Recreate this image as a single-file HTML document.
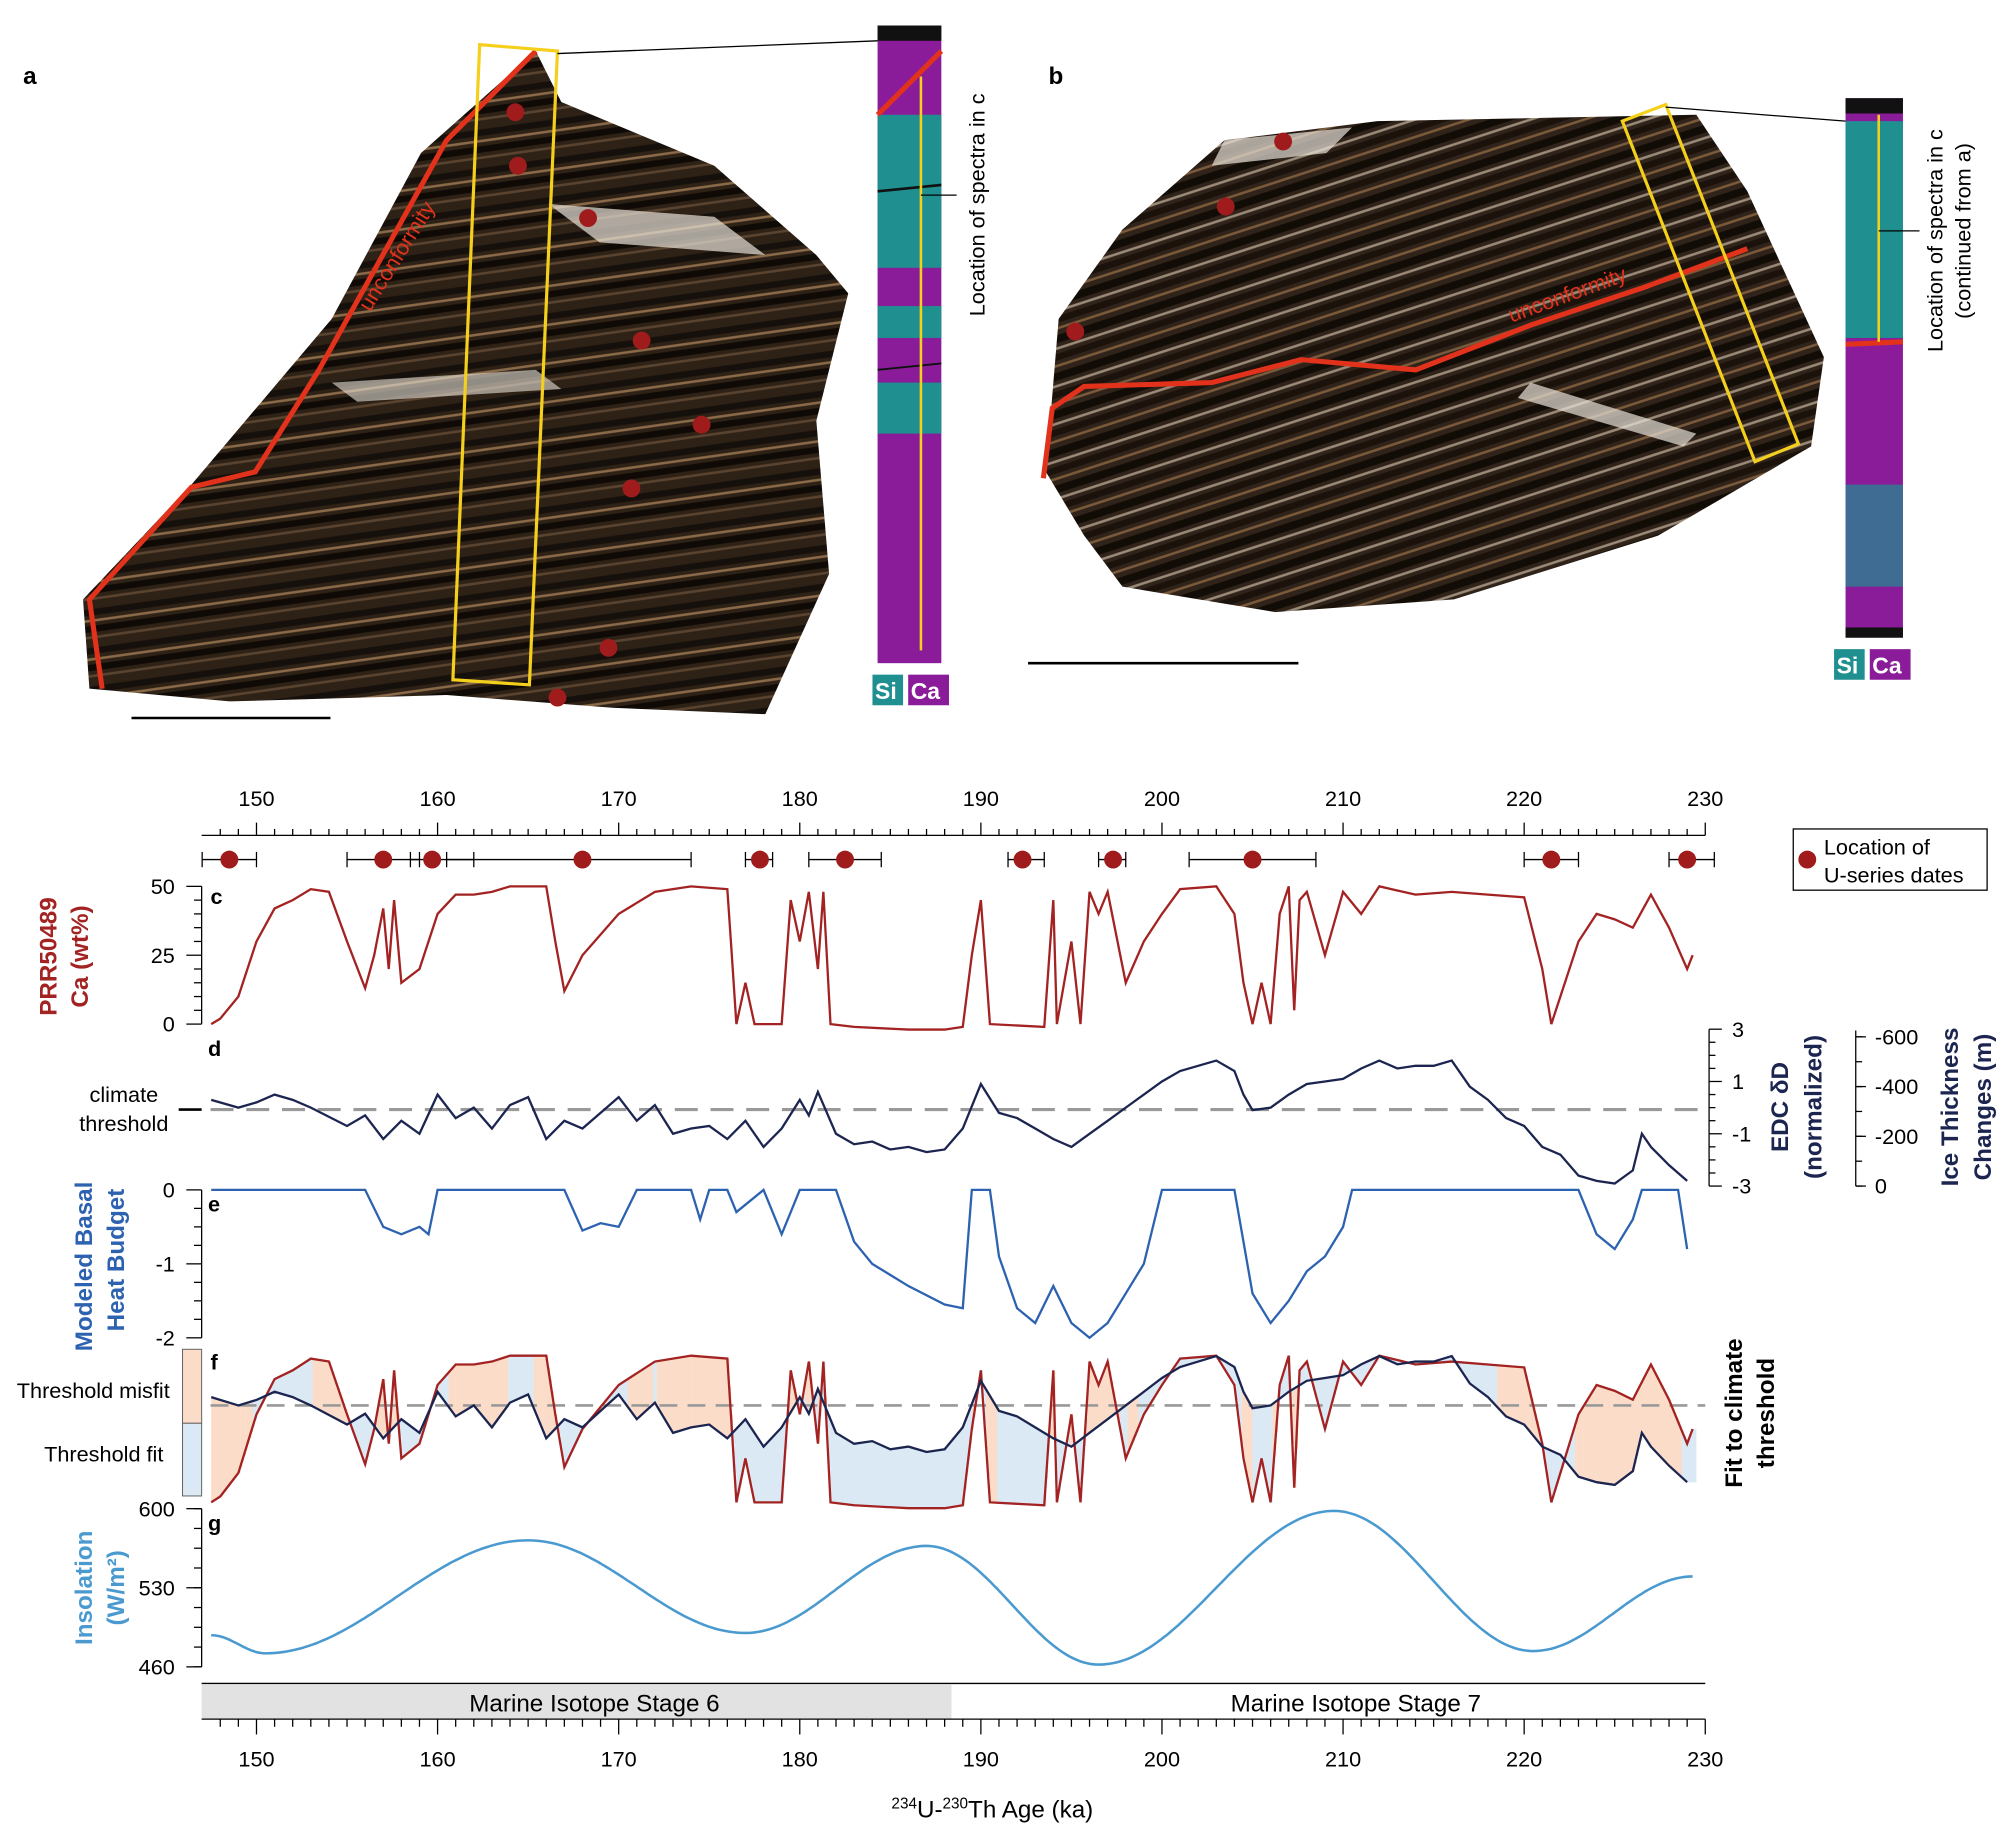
<!DOCTYPE html>
<html><head><meta charset="utf-8"><style>
html,body{margin:0;padding:0;background:#fff}
svg{display:block}
text{font-family:"Liberation Sans",Arial,sans-serif}
</style></head><body>
<svg id="s" width="2000" height="1825" viewBox="0 0 1568 1431" xmlns="http://www.w3.org/2000/svg">
<defs>
<pattern id="rockA" patternUnits="userSpaceOnUse" width="60" height="30" patternTransform="rotate(-8)">
<rect width="60" height="30" fill="#2e2116"/>
<rect y="3" width="60" height="5" fill="#15100b"/>
<rect y="11" width="60" height="2" fill="#8a6a48"/>
<rect y="16" width="60" height="5" fill="#0f0a06"/>
<rect y="24" width="60" height="2" fill="#5a4430"/>
</pattern>
<pattern id="rockB" patternUnits="userSpaceOnUse" width="60" height="28" patternTransform="rotate(-18)">
<rect width="60" height="28" fill="#30231a"/>
<rect y="2" width="60" height="6" fill="#120c07"/>
<rect y="11" width="60" height="2" fill="#9a8a78"/>
<rect y="16" width="60" height="5" fill="#1a120b"/>
<rect y="24" width="60" height="2" fill="#7a5a3a"/>
</pattern>
</defs>
<!-- photo a -->
<polygon points="70,540 65,470 150,380 260,250 330,120 420,40 440,80 560,130 640,200 665,230 640,330 650,450 600,560 480,555 350,545 180,550" fill="url(#rockA)"/>
<polygon points="430,160 560,170 600,200 470,190" fill="#e8e2d8" opacity="0.7"/>
<polygon points="260,300 420,290 440,305 280,315" fill="#e8e2d8" opacity="0.6"/>
<polyline points="80,540 70,470 150,382 200,370 250,290 300,200 350,110 420,40" fill="none" stroke="#e2321c" stroke-width="4"/>
<text x="0" y="0" transform="translate(290,245) rotate(-58)" font-size="17" fill="#e2321c">unconformity</text>
<polygon points="376,35 437,40 415,537 355,533" fill="none" stroke="#f4d01c" stroke-width="2.5"/>
<line x1="437" y1="42" x2="688" y2="32" stroke="#000" stroke-width="1"/>
<g fill="#a01c1c"><circle cx="404" cy="88" r="7"/><circle cx="406" cy="130" r="7"/><circle cx="461" cy="171" r="7"/><circle cx="503" cy="267" r="7"/><circle cx="550" cy="333" r="7"/><circle cx="495" cy="383" r="7"/><circle cx="477" cy="508" r="7"/><circle cx="437" cy="547" r="7"/></g>
<line x1="103" y1="563" x2="259" y2="563" stroke="#000" stroke-width="2"/>
<rect x="688" y="20" width="50" height="500" fill="#8a1c9a"/>
<rect x="688" y="90" width="50" height="120" fill="#1f8f8f"/>
<rect x="688" y="240" width="50" height="25" fill="#1f8f8f"/>
<rect x="688" y="300" width="50" height="40" fill="#1f8f8f"/>
<rect x="688" y="20" width="50" height="12" fill="#111"/>
<line x1="688" y1="150" x2="738" y2="145" stroke="#111" stroke-width="2"/>
<line x1="688" y1="290" x2="738" y2="285" stroke="#111" stroke-width="1.5"/>
<polyline points="688,90 738,40" stroke="#e2321c" stroke-width="4" fill="none"/>
<line x1="722" y1="60" x2="722" y2="510" stroke="#f4d01c" stroke-width="2"/>
<line x1="722" y1="153" x2="750" y2="153" stroke="#000"/>
<text transform="translate(772,248) rotate(-90)" font-size="17">Location of spectra in c</text>
<rect x="684" y="529" width="24" height="24" fill="#1f8f8f"/><text x="686" y="548" font-size="18" font-weight="bold" fill="#fff">Si</text>
<rect x="712" y="529" width="32" height="24" fill="#8a1c9a"/><text x="714" y="548" font-size="18" font-weight="bold" fill="#fff">Ca</text>
<text x="18" y="66" font-size="19" font-weight="bold">a</text>
<text x="822" y="66" font-size="19" font-weight="bold">b</text>
<!-- photo b -->
<polygon points="820,370 830,250 880,180 960,110 1080,95 1330,90 1370,150 1430,280 1420,350 1300,420 1140,470 1000,480 880,460 850,420" fill="url(#rockB)"/>
<polygon points="960,110 1060,100 1040,120 950,130" fill="#e8e2d8" opacity="0.7"/>
<polygon points="1200,300 1330,340 1320,350 1190,312" fill="#e8e2d8" opacity="0.7"/>
<polyline points="818,375 825,320 850,303 950,300 1020,282 1110,290 1200,255 1290,225 1370,195" fill="none" stroke="#e2321c" stroke-width="4"/>
<text transform="translate(1185,253) rotate(-20)" font-size="17" fill="#e2321c">unconformity</text>
<polygon points="1272,95 1306,82 1410,348 1376,362" fill="none" stroke="#f4d01c" stroke-width="2.5"/>
<line x1="1306" y1="84" x2="1447" y2="95" stroke="#000"/>
<g fill="#a01c1c"><circle cx="1006" cy="111" r="7"/><circle cx="961" cy="162" r="7"/><circle cx="843" cy="260" r="7"/></g>
<line x1="806" y1="520" x2="1018" y2="520" stroke="#000" stroke-width="2"/>
<rect x="1447" y="77" width="45" height="423" fill="#8a1c9a"/>
<rect x="1447" y="95" width="45" height="170" fill="#1f8f8f"/>
<rect x="1447" y="380" width="45" height="80" fill="#1f8f8f" opacity="0.7"/>
<rect x="1447" y="77" width="45" height="12" fill="#111"/>
<rect x="1447" y="492" width="45" height="8" fill="#111"/>
<line x1="1447" y1="270" x2="1492" y2="268" stroke="#e2321c" stroke-width="4"/>
<line x1="1473" y1="90" x2="1473" y2="268" stroke="#f4d01c" stroke-width="2"/>
<line x1="1473" y1="181" x2="1505" y2="181" stroke="#000"/>
<text transform="translate(1523,276) rotate(-90)" font-size="17">Location of spectra in c</text>
<text transform="translate(1545,250) rotate(-90)" font-size="17">(continued from a)</text>
<rect x="1438" y="509" width="24" height="24" fill="#1f8f8f"/><text x="1440" y="528" font-size="18" font-weight="bold" fill="#fff">Si</text>
<rect x="1466" y="509" width="32" height="24" fill="#8a1c9a"/><text x="1468" y="528" font-size="18" font-weight="bold" fill="#fff">Ca</text>
<g id="charts"></g>
</svg>
<script>
const NS="http://www.w3.org/2000/svg",g=document.getElementById("charts");
function el(t,a,txt){const e=document.createElementNS(NS,t);for(const k in a)e.setAttribute(k,a[k]);if(txt!==undefined)e.textContent=txt;g.appendChild(e);return e;}
const X=a=>201+(a-150)*14.2;
function interp(d,a){if(a<=d[0][0])return d[0][1];for(let i=1;i<d.length;i++){if(a<=d[i][0]){const t=(a-d[i-1][0])/(d[i][0]-d[i-1][0]);return d[i-1][1]+t*(d[i][1]-d[i-1][1]);}}return d[d.length-1][1];}
function path(d,Y){return d.map((p,i)=>(i?"L":"M")+X(p[0]).toFixed(1)+","+Y(p[1]).toFixed(1)).join("");}
const ca=[[147.5,0],[148,2],[149,10],[150,30],[151,42],[152,45],[153,49],[154,48],[155,30],[156,13],[156.5,25],[157,42],[157.3,20],[157.6,45],[158,15],[159,20],[160,40],[161,47],[162,47],[163,48],[164,50],[166,50],[166.5,30],[167,12],[168,25],[170,40],[172,48],[174,50],[176,49],[176.2,30],[176.5,0],[177,15],[177.5,0],[179,0],[179.5,45],[180,30],[180.5,48],[181,20],[181.3,48],[181.7,0],[183,-1],[186,-2],[188,-2],[189,-1],[189.5,25],[190,45],[190.5,0],[193.5,-1],[194,45],[194.2,0],[195,30],[195.5,0],[196,48],[196.5,40],[197,48],[198,15],[199,30],[200,40],[201,49],[203,50],[204,40],[204.5,15],[205,0],[205.5,15],[206,0],[206.5,40],[207,50],[207.3,5],[207.6,45],[208,48],[209,25],[210,48],[211,40],[212,50],[214,47],[216,48],[218,47],[220,46],[221,20],[221.5,0],[222,10],[223,30],[224,40],[225,38],[226,35],[227,47],[228,35],[229,20],[229.3,25]];
const dd=[[147.5,0.3],[149,0],[150,0.2],[151,0.5],[152,0.3],[153,0],[155,-0.7],[156,-0.3],[157,-1.2],[158,-0.5],[159,-1],[160,0.5],[161,-0.4],[162,0],[163,-0.8],[164,0.1],[165,0.4],[166,-1.2],[167,-0.5],[168,-0.8],[169,-0.2],[170,0.4],[171,-0.5],[172,0.1],[173,-1],[174,-0.8],[175,-0.7],[176,-1.2],[177,-0.5],[178,-1.5],[179,-0.8],[180,0.3],[180.5,-0.3],[181,0.6],[182,-1],[183,-1.4],[184,-1.3],[185,-1.6],[186,-1.5],[187,-1.7],[188,-1.6],[189,-0.8],[190,0.9],[191,-0.2],[192,-0.4],[193,-0.8],[194,-1.2],[195,-1.5],[196,-1],[197,-0.5],[198,0],[199,0.5],[200,1],[201,1.4],[202,1.6],[203,1.8],[204,1.4],[204.5,0.5],[205,-0.1],[206,0],[207,0.5],[208,0.9],[209,1],[210,1.1],[211,1.5],[212,1.8],[213,1.5],[214,1.6],[215,1.6],[216,1.8],[217,0.8],[218,0.3],[219,-0.4],[220,-0.7],[221,-1.5],[222,-1.8],[223,-2.6],[224,-2.8],[225,-2.9],[226,-2.4],[226.5,-1],[227,-1.5],[228,-2.2],[229,-2.8]];
const eb=[[147.5,0],[156,0],[157,-0.5],[158,-0.6],[159,-0.5],[159.5,-0.6],[160,0],[167,0],[168,-0.55],[169,-0.45],[170,-0.5],[171,0],[174,0],[174.5,-0.4],[175,0],[176,0],[176.5,-0.3],[177,-0.2],[178,0],[179,-0.6],[180,0],[182,0],[183,-0.7],[184,-1],[186,-1.3],[188,-1.55],[189,-1.6],[189.5,0],[190.5,0],[191,-0.9],[192,-1.6],[193,-1.8],[194,-1.3],[195,-1.8],[196,-2.0],[197,-1.8],[198,-1.4],[199,-1],[200,0],[204,0],[205,-1.4],[206,-1.8],[207,-1.5],[208,-1.1],[209,-0.9],[210,-0.5],[210.5,0],[223,0],[224,-0.6],[225,-0.8],[226,-0.4],[226.5,0],[228.5,0],[229,-0.8]];
el("line",{x1:158,y1:655,x2:1337,y2:655,stroke:"#000"});
for(let a=148;a<=230;a++){const big=a%10==0;el("line",{x1:X(a),y1:655,x2:X(a),y2:big?645:650,stroke:"#000"});}
for(let a=150;a<=230;a+=10)el("text",{x:X(a),y:632,"font-size":17,"text-anchor":"middle"},a);
[[148.5,147,150],[157,155,159],[159.7,158.5,162],[168,160.5,174],[177.8,177,178.5],[182.5,180.5,184.5],[192.3,191.5,193.5],[197.3,196.5,198],[205,201.5,208.5],[221.5,220,223],[229,228,230.5]].forEach(d=>{
el("line",{x1:X(d[1]),y1:674,x2:X(d[2]),y2:674,stroke:"#000"});el("line",{x1:X(d[1]),y1:668,x2:X(d[1]),y2:680,stroke:"#000"});el("line",{x1:X(d[2]),y1:668,x2:X(d[2]),y2:680,stroke:"#000"});
el("circle",{cx:X(d[0]),cy:674,r:7,fill:"#a01c1c"});});
el("rect",{x:1406,y:650,width:152,height:48,fill:"#fff",stroke:"#000"});
el("circle",{cx:1417,cy:674,r:7,fill:"#a01c1c"});
el("text",{x:1430,y:670,"font-size":17},"Location of");el("text",{x:1430,y:692,"font-size":17},"U-series dates");
const Yc=v=>803-v*2.16;
el("line",{x1:158,y1:695,x2:158,y2:803,stroke:"#000"});
for(let v=0;v<=50;v+=5)el("line",{x1:v%25?152:146,y1:Yc(v),x2:158,y2:Yc(v),stroke:"#000"});
[50,25,0].forEach(v=>el("text",{x:137,y:Yc(v)+6,"font-size":17,"text-anchor":"end"},v));
el("path",{d:path(ca,Yc),fill:"none",stroke:"#a32222","stroke-width":1.8});
el("text",{x:165,y:709,"font-size":17,"font-weight":"bold"},"c");
el("text",{transform:"translate(44,750) rotate(-90)","font-size":19,"font-weight":"bold",fill:"#a32222","text-anchor":"middle"},"PRR50489");
el("text",{transform:"translate(69,750) rotate(-90)","font-size":19,"font-weight":"bold",fill:"#a32222","text-anchor":"middle"},"Ca (wt%)");
const Yd=v=>868.5-v*20.5;
el("line",{x1:165,y1:870,x2:1337,y2:870,stroke:"#999","stroke-width":2.5,"stroke-dasharray":"18,10"});
el("line",{x1:140,y1:870,x2:158,y2:870,stroke:"#000","stroke-width":2});
el("text",{x:97,y:864,"font-size":17,"text-anchor":"middle"},"climate");
el("text",{x:97,y:887,"font-size":17,"text-anchor":"middle"},"threshold");
el("path",{d:path(dd,Yd),fill:"none",stroke:"#1c2550","stroke-width":1.8});
el("text",{x:163,y:828,"font-size":17,"font-weight":"bold"},"d");
el("line",{x1:1340,y1:807,x2:1340,y2:930,stroke:"#000"});
for(let v=-3;v<=3;v+=0.5)el("line",{x1:1340,y1:Yd(v),x2:Number.isInteger(v)&&v%2?1350:1345,y2:Yd(v),stroke:"#000"});
[3,1,-1,-3].forEach(v=>el("text",{x:1358,y:Yd(v)+6,"font-size":17},v));
el("text",{transform:"translate(1402,868) rotate(-90)","font-size":19,"font-weight":"bold",fill:"#1c2550","text-anchor":"middle"},"EDC δD");
el("text",{transform:"translate(1428,868) rotate(-90)","font-size":19,"font-weight":"bold",fill:"#1c2550","text-anchor":"middle"},"(normalized)");
el("line",{x1:1455,y1:808,x2:1455,y2:930,stroke:"#000"});
[[-600,813],[-400,852],[-200,891],[0,930]].forEach(p=>{el("line",{x1:1455,y1:p[1],x2:1463,y2:p[1],stroke:"#000"});el("text",{x:1470,y:p[1]+6,"font-size":17},p[0]);});
for(let y=813;y<=930;y+=19.5)el("line",{x1:1455,y1:y,x2:1460,y2:y,stroke:"#000"});
el("text",{transform:"translate(1535,868) rotate(-90)","font-size":19,"font-weight":"bold",fill:"#1c2550","text-anchor":"middle"},"Ice Thickness");
el("text",{transform:"translate(1561,868) rotate(-90)","font-size":19,"font-weight":"bold",fill:"#1c2550","text-anchor":"middle"},"Changes (m)");
const Ye=v=>933-v*58;
el("line",{x1:158,y1:933,x2:158,y2:1049,stroke:"#000"});
for(let v=0;v>=-2;v-=0.25)el("line",{x1:v%1?152:146,y1:Ye(v),x2:158,y2:Ye(v),stroke:"#000"});
[0,-1,-2].forEach(v=>el("text",{x:137,y:Ye(v)+6,"font-size":17,"text-anchor":"end"},v));
el("path",{d:path(eb,Ye),fill:"none",stroke:"#2d62b0","stroke-width":1.8});
el("text",{x:163,y:950,"font-size":17,"font-weight":"bold"},"e");
el("text",{transform:"translate(72,993) rotate(-90)","font-size":19,"font-weight":"bold",fill:"#2d62b0","text-anchor":"middle"},"Modeled Basal");
el("text",{transform:"translate(97,988) rotate(-90)","font-size":19,"font-weight":"bold",fill:"#2d62b0","text-anchor":"middle"},"Heat Budget");
const Yfc=v=>1178-v*2.3,Yfd=v=>1102-v*21.5;
for(let a=147.5;a<229.4;a+=0.1){const c=interp(ca,a),d=interp(dd,a);const y1=Yfc(c),y2=Yfd(d);
const fit=(c>25)==(d>0);el("rect",{x:X(a),y:Math.min(y1,y2),width:1.6,height:Math.abs(y1-y2)+0.1,fill:fit?"#dbe9f5":"#fbdcc8"});}
el("line",{x1:165,y1:1102,x2:1337,y2:1102,stroke:"#999","stroke-width":2,"stroke-dasharray":"14,8"});
el("path",{d:path(ca,Yfc),fill:"none",stroke:"#a32222","stroke-width":1.8});
el("path",{d:path(dd,Yfd),fill:"none",stroke:"#1c2550","stroke-width":1.8});
el("rect",{x:143,y:1058,width:15,height:58,fill:"#fbdcc8",stroke:"#666","stroke-width":0.8});
el("rect",{x:143,y:1116,width:15,height:57,fill:"#dbe9f5",stroke:"#666","stroke-width":0.8});
el("text",{x:133,y:1096,"font-size":17,"text-anchor":"end"},"Threshold misfit");
el("text",{x:128,y:1146,"font-size":17,"text-anchor":"end"},"Threshold fit");
el("text",{x:165,y:1074,"font-size":17,"font-weight":"bold"},"f");
el("text",{transform:"translate(1366,1108) rotate(-90)","font-size":19,"font-weight":"bold","text-anchor":"middle"},"Fit to climate");
el("text",{transform:"translate(1391,1108) rotate(-90)","font-size":19,"font-weight":"bold","text-anchor":"middle"},"threshold");
const Yg=v=>1307-(v-460)*0.886;
const ex=[[147.5,488],[150.5,472],[165,572],[177,490],[187,567],[196.5,462],[209.5,598],[220.5,474],[229.3,540]];
let ins=[];for(let a=147.5;a<=229.3;a+=0.2){let i=1;while(i<ex.length-1&&a>ex[i][0])i++;const p=ex[i-1],q=ex[i];const t=(a-p[0])/(q[0]-p[0]);ins.push([a,p[1]+(q[1]-p[1])*(1-Math.cos(Math.PI*t))/2]);}
el("line",{x1:158,y1:1183,x2:158,y2:1307,stroke:"#000"});
for(let v=460;v<=600;v+=17.5)el("line",{x1:152,y1:Yg(v),x2:158,y2:Yg(v),stroke:"#000"});
[600,530,460].forEach(v=>{el("line",{x1:146,y1:Yg(v),x2:158,y2:Yg(v),stroke:"#000"});el("text",{x:137,y:Yg(v)+6,"font-size":17,"text-anchor":"end"},v);});
el("path",{d:path(ins,Yg),fill:"none",stroke:"#4a9ad0","stroke-width":2});
el("text",{x:163,y:1200,"font-size":17,"font-weight":"bold"},"g");
el("text",{transform:"translate(72,1245) rotate(-90)","font-size":19,"font-weight":"bold",fill:"#4a9ad0","text-anchor":"middle"},"Insolation");
el("text",{transform:"translate(97,1245) rotate(-90)","font-size":19,"font-weight":"bold",fill:"#4a9ad0","text-anchor":"middle"},"(W/m²)");
el("rect",{x:158,y:1321,width:588,height:27,fill:"#e2e2e2"});
el("line",{x1:158,y1:1320,x2:1337,y2:1320,stroke:"#000"});
el("text",{x:466,y:1342,"font-size":19,"text-anchor":"middle"},"Marine Isotope Stage 6");
el("text",{x:1063,y:1342,"font-size":19,"text-anchor":"middle"},"Marine Isotope Stage 7");
el("line",{x1:158,y1:1348,x2:1337,y2:1348,stroke:"#000"});
for(let a=148;a<=230;a++){const big=a%10==0;el("line",{x1:X(a),y1:1348,x2:X(a),y2:big?1360:1354,stroke:"#000"});}
for(let a=150;a<=230;a+=10)el("text",{x:X(a),y:1385,"font-size":17,"text-anchor":"middle"},a);
const t=el("text",{x:778,y:1425,"font-size":19,"text-anchor":"middle"});
t.innerHTML='<tspan font-size="12" dy="-7">234</tspan><tspan dy="7">U-</tspan><tspan font-size="12" dy="-7">230</tspan><tspan dy="7">Th Age (ka)</tspan>';
</script>
</body></html>
